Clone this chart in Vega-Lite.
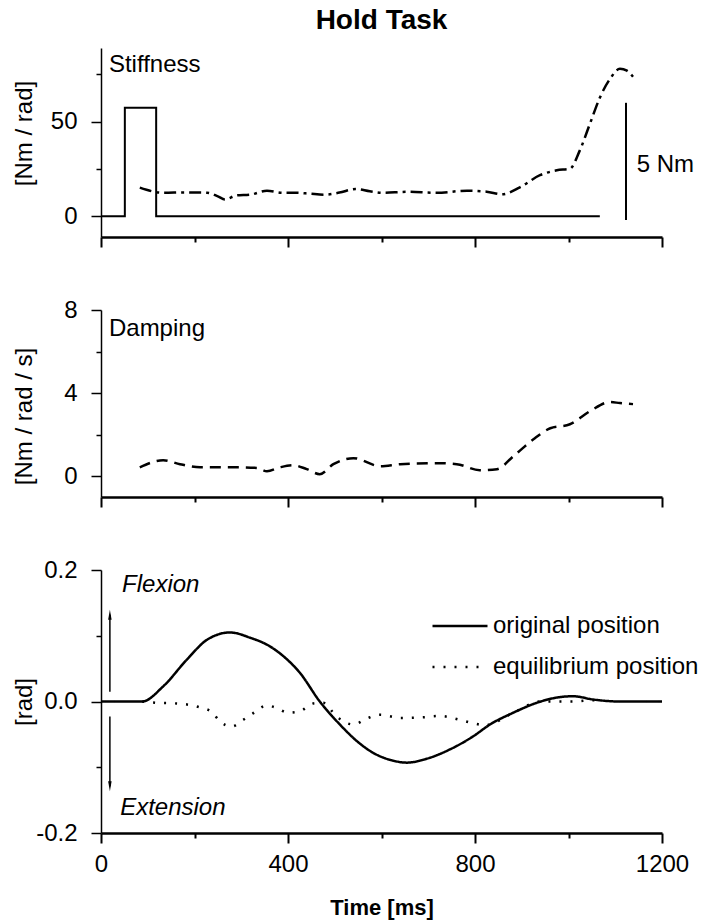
{
  "$schema": "https://vega.github.io/schema/vega-lite/v6.json",
  "padding": {"left": 11, "top": 7, "right": 0, "bottom": 5},
  "background": "white",
  "bounds": "flush",
  "spacing": 73,
  "resolve": {"legend": {"strokeDash": "independent"}},
  "config": {
    "view": {"stroke": null},
    "font": "Liberation Sans",
    "axis": {
      "grid": false,
      "domainColor": "black",
      "tickColor": "black",
      "labelColor": "black",
      "titleColor": "black",
      "labelFont": "Liberation Sans",
      "titleFont": "Liberation Sans",
      "labelFontSize": 24,
      "titleFontSize": 24,
      "titleFontWeight": "normal",
      "labelFlush": false,
      "labelOverlap": false
    },
    "text": {"font": "Liberation Sans", "fontSize": 24, "color": "black"}
  },
  "datasets": {
    "pulse": [
      {"t": 0, "v": 0}, {"t": 51, "v": 0}, {"t": 51, "v": 57.4}, {"t": 118, "v": 57.4}, {"t": 118, "v": 0}, {"t": 1067, "v": 0}
    ],
    "stiff": [
      {"t": 83, "v": 15.1}, {"t": 133, "v": 12.4}, {"t": 180, "v": 12.6}, {"t": 227, "v": 12.4}, {"t": 250, "v": 10.5},
      {"t": 265, "v": 8.9}, {"t": 290, "v": 11.0}, {"t": 319, "v": 11.4}, {"t": 355, "v": 13.5}, {"t": 389, "v": 12.4},
      {"t": 419, "v": 12.4}, {"t": 447, "v": 11.9}, {"t": 479, "v": 11.4}, {"t": 510, "v": 12.5}, {"t": 545, "v": 14.4},
      {"t": 575, "v": 13.2}, {"t": 603, "v": 12.4}, {"t": 654, "v": 12.9}, {"t": 718, "v": 12.4}, {"t": 783, "v": 13.5},
      {"t": 825, "v": 13.0}, {"t": 858, "v": 11.6}, {"t": 896, "v": 15.3}, {"t": 939, "v": 21.7}, {"t": 975, "v": 24.3},
      {"t": 1003, "v": 25.1}, {"t": 1024, "v": 34.7}, {"t": 1046, "v": 49.0}, {"t": 1067, "v": 62.7}, {"t": 1089, "v": 72.7},
      {"t": 1110, "v": 78.0}, {"t": 1125, "v": 77.0}, {"t": 1138, "v": 73.8}
    ],
    "damp": [
      {"t": 83, "v": 0.43}, {"t": 133, "v": 0.77}, {"t": 169, "v": 0.58}, {"t": 212, "v": 0.43}, {"t": 282, "v": 0.43},
      {"t": 334, "v": 0.4}, {"t": 355, "v": 0.24}, {"t": 383, "v": 0.43}, {"t": 411, "v": 0.53}, {"t": 440, "v": 0.34},
      {"t": 468, "v": 0.1}, {"t": 497, "v": 0.58}, {"t": 540, "v": 0.87}, {"t": 597, "v": 0.48}, {"t": 640, "v": 0.58},
      {"t": 718, "v": 0.63}, {"t": 761, "v": 0.58}, {"t": 810, "v": 0.29}, {"t": 847, "v": 0.34}, {"t": 882, "v": 0.96},
      {"t": 925, "v": 1.78}, {"t": 961, "v": 2.31}, {"t": 1003, "v": 2.5}, {"t": 1046, "v": 3.13}, {"t": 1089, "v": 3.57},
      {"t": 1110, "v": 3.52}, {"t": 1138, "v": 3.47}
    ],
    "pos": [
      {"s": "original position", "t": 0, "v": 0}, {"s": "original position", "t": 88, "v": 0},
      {"s": "original position", "t": 133, "v": 0.023}, {"s": "original position", "t": 184, "v": 0.064},
      {"s": "original position", "t": 227, "v": 0.094}, {"s": "original position", "t": 276, "v": 0.105},
      {"s": "original position", "t": 319, "v": 0.097}, {"s": "original position", "t": 361, "v": 0.084},
      {"s": "original position", "t": 390, "v": 0.069}, {"s": "original position", "t": 425, "v": 0.044},
      {"s": "original position", "t": 468, "v": 0.0}, {"s": "original position", "t": 511, "v": -0.035},
      {"s": "original position", "t": 547, "v": -0.06}, {"s": "original position", "t": 582, "v": -0.078},
      {"s": "original position", "t": 625, "v": -0.09}, {"s": "original position", "t": 654, "v": -0.093},
      {"s": "original position", "t": 697, "v": -0.087}, {"s": "original position", "t": 746, "v": -0.073},
      {"s": "original position", "t": 796, "v": -0.053}, {"s": "original position", "t": 832, "v": -0.035},
      {"s": "original position", "t": 882, "v": -0.017}, {"s": "original position", "t": 932, "v": -0.002},
      {"s": "original position", "t": 975, "v": 0.006}, {"s": "original position", "t": 1010, "v": 0.008},
      {"s": "original position", "t": 1053, "v": 0.003}, {"s": "original position", "t": 1110, "v": 0.0},
      {"s": "original position", "t": 1200, "v": 0.0},
      {"s": "equilibrium position", "t": 88, "v": 0}, {"s": "equilibrium position", "t": 120, "v": -0.002},
      {"s": "equilibrium position", "t": 162, "v": -0.003}, {"s": "equilibrium position", "t": 212, "v": -0.009},
      {"s": "equilibrium position", "t": 237, "v": -0.016}, {"s": "equilibrium position", "t": 254, "v": -0.03},
      {"s": "equilibrium position", "t": 280, "v": -0.038}, {"s": "equilibrium position", "t": 304, "v": -0.028},
      {"s": "equilibrium position", "t": 325, "v": -0.018}, {"s": "equilibrium position", "t": 355, "v": -0.006},
      {"s": "equilibrium position", "t": 376, "v": -0.01}, {"s": "equilibrium position", "t": 400, "v": -0.017},
      {"s": "equilibrium position", "t": 425, "v": -0.015}, {"s": "equilibrium position", "t": 454, "v": -0.003},
      {"s": "equilibrium position", "t": 475, "v": -0.002}, {"s": "equilibrium position", "t": 504, "v": -0.023},
      {"s": "equilibrium position", "t": 540, "v": -0.035}, {"s": "equilibrium position", "t": 568, "v": -0.026},
      {"s": "equilibrium position", "t": 597, "v": -0.02}, {"s": "equilibrium position", "t": 640, "v": -0.025},
      {"s": "equilibrium position", "t": 688, "v": -0.024}, {"s": "equilibrium position", "t": 725, "v": -0.022},
      {"s": "equilibrium position", "t": 768, "v": -0.028}, {"s": "equilibrium position", "t": 796, "v": -0.033},
      {"s": "equilibrium position", "t": 821, "v": -0.036}, {"s": "equilibrium position", "t": 882, "v": -0.017},
      {"s": "equilibrium position", "t": 939, "v": 0.0}, {"s": "equilibrium position", "t": 967, "v": 0.0},
      {"s": "equilibrium position", "t": 1010, "v": 0.0}, {"s": "equilibrium position", "t": 1053, "v": 0.002},
      {"s": "equilibrium position", "t": 1070, "v": 0.002}
    ]
  },
  "vconcat": [
    {
      "width": 561,
      "height": 189,
      "title": {"text": "Hold Task", "fontSize": 28, "fontWeight": "bold", "anchor": "middle", "frame": "group", "offset": 13, "color": "black", "font": "Liberation Sans"},
      "layer": [
        {
          "data": {"name": "pulse"},
          "mark": {"type": "line", "color": "black", "strokeWidth": 2},
          "encoding": {
            "x": {"field": "t", "type": "quantitative", "scale": {"domain": [0, 1200], "nice": false},
              "axis": {"values": [0, 200, 400, 600, 800, 1000, 1200], "labels": false, "title": null, "domainWidth": 2.5, "tickWidth": 2,
                "tickSize": {"condition": {"test": "datum.value % 400 === 0", "value": 10}, "value": 5}}},
            "y": {"field": "v", "type": "quantitative", "scale": {"domain": [-11, 89], "nice": false, "zero": false},
              "axis": {"values": [0, 25, 50, 75], "title": "[Nm / rad]", "titleX": -65, "titleY": 85, "labelPadding": 14, "domainWidth": 1.5, "tickWidth": 1.5,
                "labelExpr": "datum.value % 50 === 0 ? datum.label : ''",
                "tickSize": {"condition": {"test": "datum.value % 50 === 0", "value": 10}, "value": 5}}},
            "order": {"value": null}
          }
        },
        {
          "data": {"name": "stiff"},
          "mark": {"type": "line", "color": "black", "strokeWidth": 2.5, "strokeDash": [12, 5, 3, 5], "interpolate": "monotone"},
          "encoding": {"x": {"field": "t", "type": "quantitative"}, "y": {"field": "v", "type": "quantitative"}}
        },
        {
          "data": {"values": [{}]},
          "mark": {"type": "rule", "color": "black", "strokeWidth": 2},
          "encoding": {"x": {"datum": 1123, "type": "quantitative"}, "y": {"datum": -2, "type": "quantitative"}, "y2": {"datum": 60}}
        },
        {
          "data": {"values": [{"label": "5 Nm"}]},
          "mark": {"type": "text", "align": "left", "baseline": "alphabetic"},
          "encoding": {"x": {"datum": 1146, "type": "quantitative"}, "y": {"datum": 23.5, "type": "quantitative"}, "text": {"field": "label"}}
        },
        {
          "data": {"values": [{"label": "Stiffness"}]},
          "mark": {"type": "text", "align": "left", "baseline": "alphabetic"},
          "encoding": {"x": {"datum": 17, "type": "quantitative"}, "y": {"datum": 76.5, "type": "quantitative"}, "text": {"field": "label"}}
        }
      ]
    },
    {
      "width": 561,
      "height": 187,
      "layer": [
        {
          "data": {"name": "damp"},
          "mark": {"type": "line", "color": "black", "strokeWidth": 2.5, "strokeDash": [11, 7], "interpolate": "monotone"},
          "encoding": {
            "x": {"field": "t", "type": "quantitative", "scale": {"domain": [0, 1200], "nice": false},
              "axis": {"values": [0, 200, 400, 600, 800, 1000, 1200], "labels": false, "title": null, "domainWidth": 2.5, "tickWidth": 2,
                "tickSize": {"condition": {"test": "datum.value % 400 === 0", "value": 10}, "value": 5}}},
            "y": {"field": "v", "type": "quantitative", "scale": {"domain": [-1, 8], "nice": false, "zero": false},
              "axis": {"values": [0, 2, 4, 6, 8], "title": "[Nm / rad / s]", "titleX": -65, "titleY": 106, "labelPadding": 14, "domainWidth": 1.5, "tickWidth": 1.5,
                "labelExpr": "datum.value % 4 === 0 ? datum.label : ''",
                "tickSize": {"condition": {"test": "datum.value % 4 === 0", "value": 10}, "value": 5}}}
          }
        },
        {
          "data": {"values": [{"label": "Damping"}]},
          "mark": {"type": "text", "align": "left", "baseline": "alphabetic"},
          "encoding": {"x": {"datum": 17, "type": "quantitative"}, "y": {"datum": 6.75, "type": "quantitative"}, "text": {"field": "label"}}
        }
      ]
    },
    {
      "width": 561,
      "height": 263,
      "layer": [
        {
          "data": {"name": "pos"},
          "mark": {"type": "line", "color": "black", "strokeWidth": 2.5, "interpolate": "monotone"},
          "encoding": {
            "x": {"field": "t", "type": "quantitative", "scale": {"domain": [0, 1200], "nice": false},
              "axis": {"values": [0, 200, 400, 600, 800, 1000, 1200], "format": "d", "title": "Time [ms]", "titleFontWeight": "bold", "titleFontSize": 22, "titlePadding": 21,
                "labelPadding": 9, "domainWidth": 2.5, "tickWidth": 2,
                "labelExpr": "datum.value % 400 === 0 ? datum.label : ''",
                "tickSize": {"condition": {"test": "datum.value % 400 === 0", "value": 10}, "value": 5}}},
            "y": {"field": "v", "type": "quantitative", "scale": {"domain": [-0.2, 0.2], "nice": false, "zero": false},
              "axis": {"values": [-0.2, -0.1, 0, 0.1, 0.2], "title": "[rad]", "titleX": -65, "labelPadding": 14, "domainWidth": 1.5, "tickWidth": 1.5,
                "labelExpr": "abs(round(datum.value * 10)) % 2 === 0 ? replace(format(datum.value, '.1f'), '\u2212', '-') : ''",
                "tickSize": {"condition": {"test": "abs(round(datum.value * 10)) % 2 === 0", "value": 10}, "value": 5}}},
            "strokeDash": {"field": "s", "type": "nominal",
              "scale": {"domain": ["original position", "equilibrium position"], "range": [[1, 0], [2, 9]]},
              "legend": {"orient": "none", "legendX": 330, "legendY": 27, "title": null, "symbolType": "stroke", "symbolSize": 3025,
                "symbolStrokeWidth": 2.5, "symbolStrokeColor": "black", "labelFontSize": 24, "labelFont": "Liberation Sans", "labelColor": "black",
                "labelLimit": 0, "labelOffset": 4, "rowPadding": -24, "padding": 0}}
          }
        },
        {
          "data": {"values": [{}]},
          "mark": {"type": "rule", "color": "black", "strokeWidth": 1.5},
          "encoding": {"x": {"datum": 19, "type": "quantitative"}, "y": {"datum": 0.015, "type": "quantitative"}, "y2": {"datum": 0.132}}
        },
        {
          "data": {"values": [{}]},
          "mark": {"type": "rule", "color": "black", "strokeWidth": 1.5},
          "encoding": {"x": {"datum": 19, "type": "quantitative"}, "y": {"datum": -0.023, "type": "quantitative"}, "y2": {"datum": -0.129}}
        },
        {
          "data": {"values": [{}]},
          "mark": {"type": "point", "shape": "M0,-1L0.35,1L-0.35,1Z", "filled": true, "color": "black", "size": 100, "opacity": 1},
          "encoding": {"x": {"datum": 19, "type": "quantitative"}, "y": {"datum": 0.132, "type": "quantitative"}}
        },
        {
          "data": {"values": [{}]},
          "mark": {"type": "point", "shape": "M0,1L0.35,-1L-0.35,-1Z", "filled": true, "color": "black", "size": 100, "opacity": 1},
          "encoding": {"x": {"datum": 19, "type": "quantitative"}, "y": {"datum": -0.129, "type": "quantitative"}}
        },
        {
          "data": {"values": [{"label": "Flexion"}]},
          "mark": {"type": "text", "align": "left", "baseline": "alphabetic", "fontStyle": "italic"},
          "encoding": {"x": {"datum": 45, "type": "quantitative"}, "y": {"datum": 0.166, "type": "quantitative"}, "text": {"field": "label"}}
        },
        {
          "data": {"values": [{"label": "Extension"}]},
          "mark": {"type": "text", "align": "left", "baseline": "alphabetic", "fontStyle": "italic"},
          "encoding": {"x": {"datum": 41, "type": "quantitative"}, "y": {"datum": -0.172, "type": "quantitative"}, "text": {"field": "label"}}
        }
      ]
    }
  ]
}
